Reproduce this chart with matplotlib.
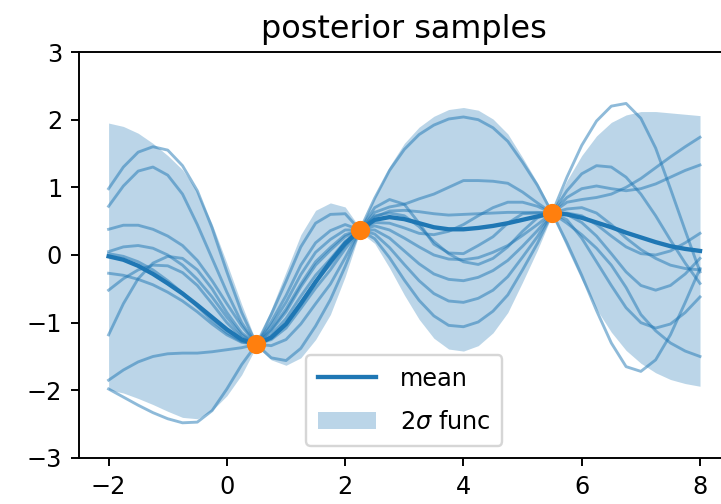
import numpy as np
import matplotlib
matplotlib.use("Agg")
import matplotlib.pyplot as plt

# evaluation grid for the posterior
x = np.linspace(-2, 8, 41)

# observed points
x_obs = [0.5, 2.25, 5.5]
y_obs = [-1.32, 0.37, 0.62]

# posterior mean
mean = [-0.02, -0.07, -0.16, -0.28, -0.42, -0.57, -0.74, -0.92, -1.10, -1.25, -1.32,
        -1.22, -1.02, -0.72, -0.40, -0.10, 0.17, 0.37,
        0.52, 0.56, 0.53, 0.47, 0.41, 0.38, 0.38, 0.40, 0.43, 0.47, 0.52, 0.57, 0.62,
        0.60, 0.55, 0.48, 0.41, 0.33, 0.26, 0.19, 0.13, 0.09, 0.06]

# 2 sigma band edges
upper = [1.95, 1.90, 1.80, 1.65, 1.47, 1.26, 0.94, 0.46, -0.12, -0.73, -1.29,
         -0.80, -0.25, 0.30, 0.66, 0.77, 0.71, 0.40,
         0.87, 1.31, 1.65, 1.89, 2.05, 2.15, 2.18, 2.14, 2.01, 1.79, 1.44, 1.07, 0.65,
         1.10, 1.47, 1.76, 1.96, 2.07, 2.12, 2.12, 2.10, 2.08, 2.06]
lower = [-1.99, -2.04, -2.12, -2.21, -2.31, -2.40, -2.42, -2.30, -2.08, -1.77, -1.35,
         -1.55, -1.63, -1.52, -1.25, -0.88, -0.32, 0.34,
         0.17, -0.19, -0.59, -0.95, -1.23, -1.39, -1.42, -1.34, -1.15, -0.85, -0.40, 0.07, 0.59,
         0.10, -0.37, -0.80, -1.14, -1.41, -1.60, -1.74, -1.84, -1.90, -1.94]

# posterior draws
s1 = [0.98, 1.30, 1.52, 1.60, 1.55, 1.32, 0.95, 0.40, -0.25, -0.85, -1.32,
      -1.52, -1.56, -1.38, -1.05, -0.66, -0.17, 0.37,
      0.84, 1.25, 1.56, 1.78, 1.92, 2.01, 2.04, 2.00, 1.88, 1.68, 1.37, 1.03, 0.62,
      0.18, -0.30, -0.82, -1.30, -1.65, -1.72, -1.55, -1.18, -0.70, -0.20]
s2 = [0.72, 1.02, 1.24, 1.30, 1.18, 0.90, 0.45, -0.05, -0.55, -1.00, -1.32,
      -1.34, -1.25, -1.02, -0.72, -0.43, -0.04, 0.37,
      0.70, 0.82, 0.75, 0.47, 0.16, 0.03, 0.02, 0.14, 0.27, 0.47, 0.61, 0.62, 0.62,
      0.62, 0.58, 0.45, 0.28, 0.12, 0.02, 0.00, 0.06, 0.18, 0.32]
s3 = [0.38, 0.44, 0.44, 0.38, 0.28, 0.14, -0.08, -0.38, -0.72, -1.05, -1.32,
      -1.25, -1.08, -0.79, -0.49, -0.22, 0.09, 0.37,
      0.48, 0.47, 0.40, 0.32, 0.30, 0.35, 0.45, 0.58, 0.70, 0.78, 0.78, 0.72, 0.62,
      0.52, 0.25, -0.10, -0.45, -0.78, -1.00, -1.08, -1.02, -0.85, -0.62]
s4 = [0.02, -0.02, -0.10, -0.22, -0.38, -0.56, -0.76, -0.97, -1.15, -1.28, -1.32,
      -1.18, -0.94, -0.61, -0.30, -0.06, 0.20, 0.37,
      0.56, 0.65, 0.66, 0.64, 0.61, 0.59, 0.60, 0.61, 0.62, 0.63, 0.63, 0.63, 0.62,
      0.60, 0.48, 0.28, 0.02, -0.25, -0.45, -0.52, -0.45, -0.28, -0.05]
s5 = [-0.52, -0.35, -0.22, -0.15, -0.16, -0.26, -0.45, -0.72, -1.00, -1.22, -1.32,
      -1.12, -0.84, -0.47, -0.15, 0.07, 0.27, 0.37,
      0.63, 0.71, 0.75, 0.83, 0.90, 1.00, 1.10, 1.10, 1.09, 1.06, 0.93, 0.77, 0.62,
      0.47, 0.30, 0.10, -0.15, -0.48, -0.88, -1.12, -1.30, -1.42, -1.50]
s6 = [-1.18, -0.72, -0.35, -0.12, -0.02, -0.05, -0.22, -0.50, -0.85, -1.15, -1.32,
      -1.04, -0.70, -0.29, 0.04, 0.23, 0.37, 0.37,
      0.37, 0.25, 0.06, -0.13, -0.28, -0.36, -0.38, -0.33, -0.23, -0.08, 0.13, 0.36, 0.62,
      0.85, 0.98, 1.02, 0.98, 0.95, 0.98, 1.05, 1.15, 1.25, 1.33]
s7 = [-1.85, -1.70, -1.58, -1.50, -1.46, -1.45, -1.45, -1.43, -1.40, -1.37, -1.32,
      -1.10, -0.80, -0.43, -0.10, 0.11, 0.30, 0.37,
      0.31, 0.11, -0.14, -0.38, -0.57, -0.68, -0.70, -0.64, -0.52, -0.32, -0.03, 0.27, 0.62,
      0.95, 1.20, 1.32, 1.30, 1.15, 0.90, 0.58, 0.22, -0.12, -0.42]
s8 = [-1.98, -2.10, -2.22, -2.33, -2.42, -2.48, -2.47, -2.30, -1.98, -1.62, -1.32,
      -0.88, -0.39, 0.12, 0.47, 0.60, 0.61, 0.37,
      0.24, -0.04, -0.37, -0.67, -0.90, -1.04, -1.06, -0.99, -0.83, -0.59, -0.22, 0.17, 0.62,
      1.15, 1.62, 1.98, 2.20, 2.24, 2.02, 1.58, 0.98, 0.36, -0.25]
s9 = [-0.27, -0.30, -0.36, -0.44, -0.55, -0.68, -0.84, -1.02, -1.18, -1.29, -1.32,
      -1.21, -1.01, -0.70, -0.39, -0.14, 0.14, 0.37,
      0.43, 0.37, 0.25, 0.12, 0.00, -0.06, -0.07, -0.04, 0.04, 0.14, 0.29, 0.45, 0.62,
      0.78, 0.82, 0.85, 0.90, 1.00, 1.13, 1.29, 1.45, 1.60, 1.74]
s10 = [0.05, 0.12, 0.14, 0.10, 0.00, -0.15, -0.36, -0.62, -0.92, -1.18, -1.32,
       -0.99, -0.60, -0.15, 0.18, 0.36, 0.45, 0.37,
       0.58, 0.62, 0.58, 0.42, 0.20, 0.02, -0.10, -0.14, -0.05, 0.12, 0.35, 0.55, 0.62,
       0.68, 0.70, 0.62, 0.45, 0.25, 0.08, -0.05, -0.15, -0.20, -0.22]
samples = [s1, s2, s3, s4, s5, s6, s7, s8, s9, s10]

dpi = 172.8
fig = plt.figure(figsize=(721 / dpi, 504 / dpi), dpi=dpi)
ax = fig.add_axes([0.1096, 0.0913, 0.9023, 0.8055])

band = ax.fill_between(x, lower, upper, color='C0', alpha=0.3, lw=0, label='2$\\sigma$ func')
for s in samples:
    ax.plot(x, s, color='C0', alpha=0.5, lw=1.2)
mean_line, = ax.plot(x, mean, color='C0', lw=1.8, label='mean')
ax.plot(x_obs, y_obs, 'o', color='C1', ms=7, zorder=5)

ax.set_xlim(-2.5, 8.5)
ax.set_ylim(-3, 3)
ax.set_title('posterior samples', fontsize=13.3)
ax.legend(handles=[mean_line, band], loc='lower center', borderpad=0.5,
          handlelength=2.4, handletextpad=1.0, labelspacing=0.8)

plt.savefig('out.png', dpi=dpi)
